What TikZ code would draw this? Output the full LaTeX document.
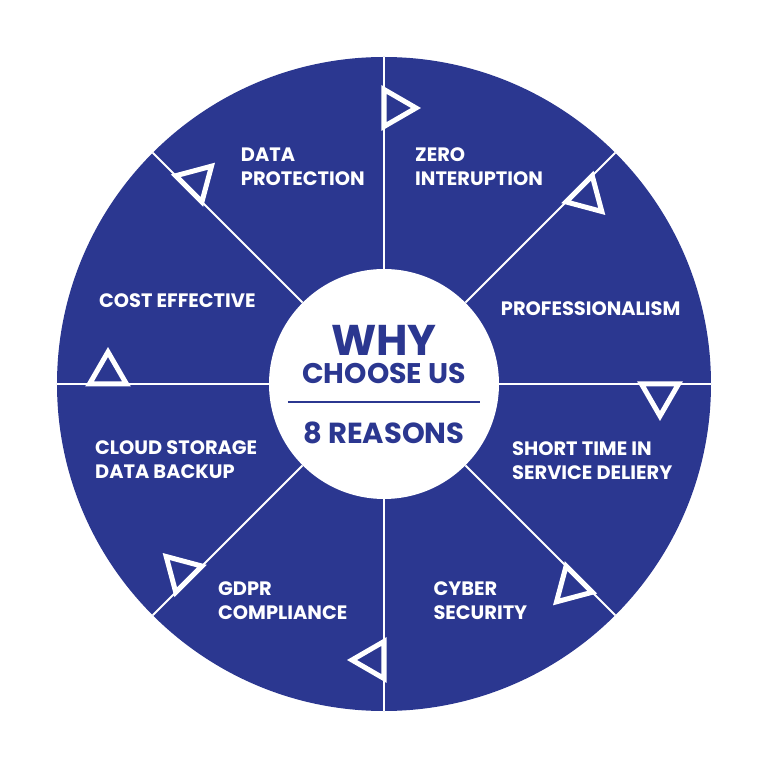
\documentclass[tikz,border=0pt]{standalone}
\usepackage{fontspec}
\setmainfont{Poppins}
\usetikzlibrary{calc}
\definecolor{wheelblue}{RGB}{43,55,144}

\begin{document}
\begin{tikzpicture}[
  x=1pt, y=1pt,
  reason/.style={anchor=west, text=white, align=left, inner sep=0pt,
                 font=\fontsize{19.4}{24}\selectfont\bfseries},
  hubtext/.style={text=wheelblue, inner sep=0pt, font=\bfseries},
  pointer/.style={draw=white, line width=5, line join=miter}
]
\useasboundingbox (-384,-384) rectangle (384,384);

% ---- WHEEL ----
\fill[wheelblue] (0,0) circle[radius=327];
\node[circle, fill=white, minimum size=230, inner sep=0pt] (hub) at (0,0) {};
\foreach \a in {0,45,...,315}
  \draw[white, line width=2] (hub.\a) -- (\a:327);

% ---- POINTERS on the spokes ----
\foreach \a in {0,45,...,315}
  \draw[pointer] ($(\a:276)+(\a:-18.5)$) -- ($(\a:276)+(\a:18.5)$)
    -- ($(\a:276)+({\a-90}:32)$) -- cycle;

% ---- HUB ----
\node[hubtext, font=\fontsize{43}{43}\selectfont\bfseries] (why) at (0, 44) {WHY};
\node[hubtext, font=\fontsize{28.4}{28}\selectfont\bfseries] (choose) at (0, 11) {CHOOSE US};
\draw[wheelblue, line width=2] (-96,-18) -- (96,-18);
\node[hubtext, font=\fontsize{29}{29}\selectfont\bfseries] (count) at (0, -48.5) {8 REASONS};

% ==== REASONS ====
\node[reason] (data)   at (-143.3, 217.5) {DATA\\PROTECTION};
\node[reason] (zero)   at (31, 217.5)     {ZERO\\INTERUPTION};
\node[reason] (prof)   at (116.7, 75.3)   {PROFESSIONALISM};
\node[reason] (short)  at (128, -77)      {SHORT TIME IN\\SERVICE DELIERY};
\node[reason] (cyber)  at (49.3, -216.3)  {CYBER\\SECURITY};
\node[reason] (gdpr)   at (-166, -217)    {GDPR\\COMPLIANCE};
\node[reason] (cloud)  at (-289, -75.9)   {CLOUD STORAGE\\DATA BACKUP};
\node[reason] (cost)   at (-285, 83.5)    {COST EFFECTIVE};

\end{tikzpicture}
\end{document}
